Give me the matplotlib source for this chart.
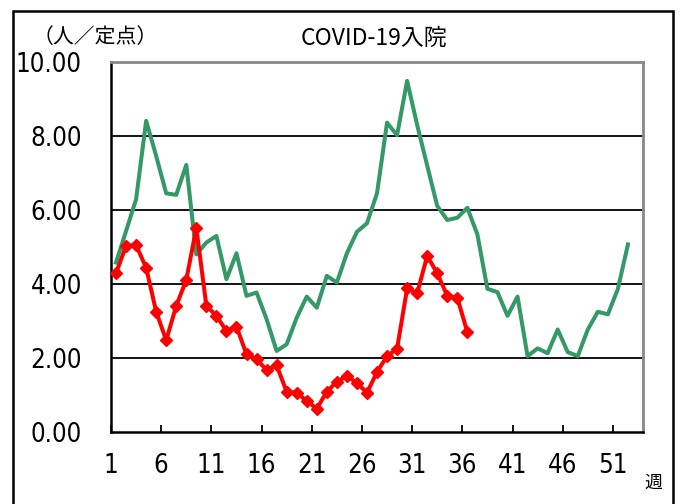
import numpy as np
import matplotlib
matplotlib.use("Agg")
import matplotlib.pyplot as plt
from matplotlib.patches import Rectangle

# 週別データ（人／定点）
weeks = np.arange(1, 54)
prev_year = [4.58, 5.43, 6.29, 8.41, 7.46, 6.45, 6.41, 7.22, 4.80, 5.12,
             5.30, 4.13, 4.83, 3.68, 3.77, 3.05, 2.19, 2.37, 3.09, 3.66,
             3.36, 4.22, 4.04, 4.83, 5.41, 5.64, 6.45, 8.36, 8.02, 9.49,
             8.30, 7.20, 6.11, 5.73, 5.79, 6.06, 5.34, 3.87, 3.78, 3.14,
             3.66, 2.05, 2.26, 2.13, 2.77, 2.16, 2.05, 2.77, 3.25, 3.18,
             3.87, 5.07]
this_year = [4.29, 5.03, 5.05, 4.44, 3.25, 2.48, 3.41, 4.11, 5.52, 3.41,
             3.14, 2.73, 2.85, 2.10, 1.96, 1.68, 1.80, 1.09, 1.06, 0.84,
             0.63, 1.09, 1.36, 1.51, 1.33, 1.06, 1.62, 2.05, 2.25, 3.88,
             3.75, 4.76, 4.29, 3.68, 3.63, 2.70]
xlabels = [1, 6, 11, 16, 21, 26, 31, 36, 41, 46, 51]
ygrid = [2, 4, 6, 8]

jp_font = ['Noto Sans CJK JP', 'DejaVu Sans']

fig = plt.figure(figsize=(6.86, 5.04), dpi=100)
ax = fig.add_axes([111/686, 1 - 432/504, 532/686, 370/504])

for g in ygrid:
    ax.axhline(g, color='black', lw=1.3, zorder=1)

ax.plot(weeks[:len(prev_year)], prev_year, color='#339966', lw=2.9, zorder=2)
ax.plot(weeks[:len(this_year)], this_year, color='#ff0000', lw=2.9,
        marker='D', markersize=6.5, zorder=3)

ax.set_xlim(0.5, 53.5)
ax.set_ylim(0, 10)

ax.set_yticks(np.arange(0, 11, 2))
ax.set_yticklabels([f"{v:.2f}" for v in np.arange(0, 11, 2)],
                   family='DejaVu Sans', fontstretch='condensed', fontsize=18.5)
ax.tick_params(axis='y', length=0, pad=21)

# 目盛りとラベルは週の区切り位置
ax.set_xticks([x - 0.5 for x in xlabels])
ax.set_xticklabels([str(x) for x in xlabels],
                   family='DejaVu Sans', fontstretch='condensed', fontsize=18.5)
ax.tick_params(axis='x', direction='in', length=5, width=1.3,
               color='black', pad=15)

for s in ['top', 'right']:
    ax.spines[s].set_color('#888888')
    ax.spines[s].set_linewidth(2)
for s in ['left', 'bottom']:
    ax.spines[s].set_color('black')
    ax.spines[s].set_linewidth(1.8)

fig.text(374/686, 1 - 38/504, 'COVID-19入院', family=jp_font, fontsize=16.5,
         fontstretch='condensed', ha='center', va='center')
fig.text(33/686, 1 - 37/504, '（人／定点）', family=jp_font, fontsize=15,
         ha='left', va='center')
fig.text(653/686, 1 - 483/504, '週', family=jp_font, fontsize=13,
         ha='center', va='center')

fig.patches.append(Rectangle((12.5/686, -0.05), 660.5/686, 1.05 - 11/504,
                             transform=fig.transFigure, fill=False,
                             edgecolor='black', lw=1.8))

fig.savefig('out.png', dpi=100)
